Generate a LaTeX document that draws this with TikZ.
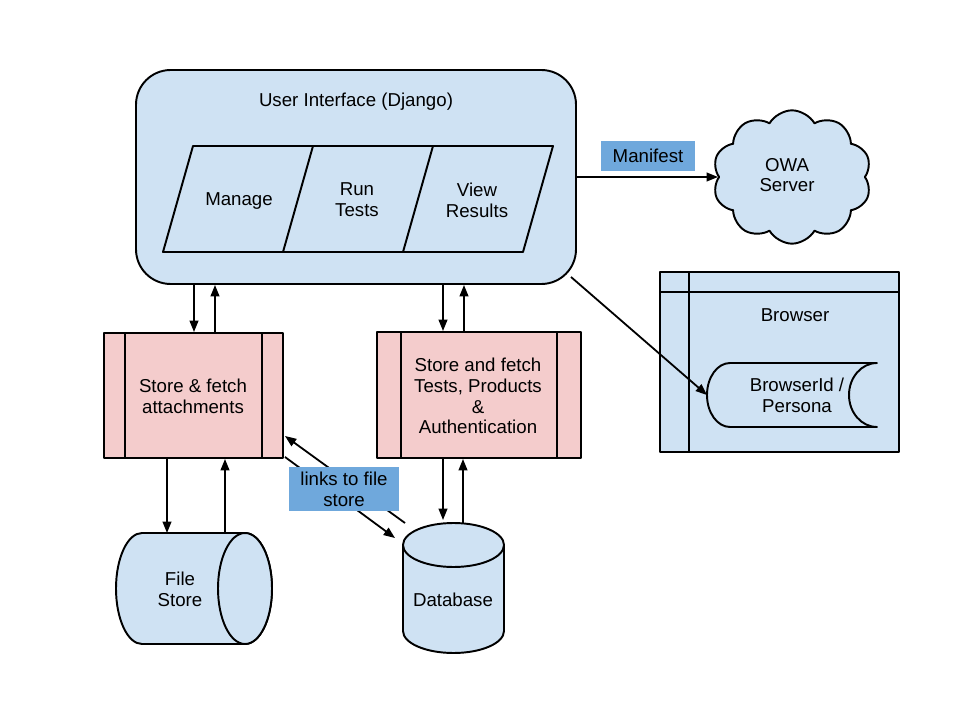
\documentclass[tikz,border=0pt]{standalone}
\usepackage{fontspec}
\setmainfont{Liberation Sans}
\usetikzlibrary{arrows.meta,calc,shapes.symbols}
\definecolor{lblue}{HTML}{CFE2F3}
\definecolor{lpink}{HTML}{F4CCCC}
\definecolor{tagblue}{HTML}{6FA8DC}
\begin{document}
\begin{tikzpicture}[x=0.75pt,y=-0.75pt,font=\fontsize{14}{15.5}\selectfont,
  shp/.style={draw=black,line width=1.45pt,fill=lblue,line join=round},
  pinkbox/.style={shp,fill=lpink,inner sep=0pt},
  edge/.style={line width=1.45pt},
  arr/.style={line width=1.35pt,-{Triangle[length=8.5pt,width=6.5pt]}},
  txt/.style={align=center,inner sep=0pt},
  tag/.style={fill=tagblue,inner sep=0pt,align=center},
  ghost/.style={inner sep=0pt,outer sep=0pt}]

\useasboundingbox (0,0) rectangle (960,720);

% User interface
\node[shp,rounded corners=26pt,minimum width=330pt,minimum height=160.5pt,inner sep=0pt] (ui) at (356,177) {};
\node[txt] (uititle) at (356,102) {User Interface (Django)};
\draw[shp] (193,146) -- (553,146) -- (523,252) -- (163,252) -- cycle;
\draw[edge] (313,146) -- (283,252) (433,146) -- (403,252);
\node[txt] (manage) at (239,201) {Manage};
\node[txt] (run) at (357,200) {Run\\Tests};
\node[txt] (view) at (477,200) {View\\Results};

% OWA server cloud
\node[shp,cloud,cloud puffs=10,cloud puff arc=120,aspect=1.2,minimum width=119pt,minimum height=100pt,inner sep=0pt] (owa) at (792,177) {};
\node[txt] (owatext) at (787,175) {OWA\\Server};
\draw[arr] (ui.east) -- (ui.east -| owa.west);
\node[tag,minimum width=70.5pt,minimum height=22.5pt] (manifest) at (648,156) {Manifest};

% Browser
\node[shp,minimum width=179.25pt,minimum height=135pt,inner sep=0pt] (br) at (779.5,362) {};
\draw[edge] ($(br.north west)+(0,21)$) -- ($(br.north east)+(0,21)$);
\draw[edge] ($(br.north west)+(30,0)$) -- ($(br.south west)+(30,0)$);
\node[txt] (brtitle) at (795,315) {Browser};
\node[ghost,minimum width=127.5pt,minimum height=48pt] (bid) at (792,395) {};
\draw[shp] ($(bid.north west)+(23,0)$) -- (bid.north east)
  arc[start angle=90,end angle=270,x radius=21pt,y radius=24pt]
  -- ($(bid.south west)+(23,0)$)
  arc[start angle=270,end angle=90,x radius=17.25pt,y radius=24pt] -- cycle;
\node[txt] (bidtext) at (797,395) {BrowserId /\\Persona};
\draw[arr] ($(ui.south east)+(-6,-8)$) -- (bid.west);

% Processing boxes
\node[pinkbox,minimum width=134.25pt,minimum height=93.75pt] (sa) at (193.5,395.5) {};
\draw[edge] ($(sa.north west)+(22,0)$) -- ($(sa.south west)+(22,0)$)
            ($(sa.north east)+(-22,0)$) -- ($(sa.south east)+(-22,0)$);
\node[txt] (satext) at (193,396) {Store \& fetch\\attachments};

\node[pinkbox,minimum width=153pt,minimum height=94.5pt] (st) at (479,395) {};
\draw[edge] ($(st.north west)+(25,0)$) -- ($(st.south west)+(25,0)$)
            ($(st.north east)+(-25,0)$) -- ($(st.south east)+(-25,0)$);
\node[txt] (sttext) at (478,396) {Store and fetch\\Tests, Products\\\&\\Authentication};

% File store (horizontal cylinder)
\node[ghost,minimum width=117pt,minimum height=83.25pt] (fs) at (194,588.5) {};
\draw[shp] ($(fs.north east)+(-27,0)$)
  arc[start angle=90,end angle=-90,x radius=20.25pt,y radius=41.625pt]
  -- ($(fs.south west)+(26,0)$)
  arc[start angle=270,end angle=90,x radius=19.5pt,y radius=41.625pt] -- cycle;
\draw[shp] ($(fs.east)+(-27,0)$) ellipse[x radius=20.25pt,y radius=41.625pt];
\node[txt] (fstext) at (180,589) {File\\Store};

% Database (vertical cylinder)
\node[ghost,minimum width=75.75pt,minimum height=97.5pt] (db) at (453.5,588) {};
\draw[shp] ($(db.north west)+(0,22)$) -- ($(db.south west)+(0,-22)$)
  arc[start angle=180,end angle=360,x radius=37.875pt,y radius=16.5pt]
  -- ($(db.north east)+(0,22)$)
  arc[start angle=0,end angle=180,x radius=37.875pt,y radius=16.5pt] -- cycle;
\draw[edge] ($(db.north west)+(0,22)$) arc[start angle=180,end angle=360,x radius=37.875pt,y radius=16.5pt];
\node[txt] (dbtext) at (453,600) {Database};

% Vertical connectors
\coordinate (a1) at ($(sa.north)+(0.5,0)$);
\draw[arr] (a1 |- ui.south) -- (a1);
\coordinate (a2) at ($(sa.north)+(21.5,0)$);
\draw[arr] (a2) -- (a2 |- ui.south);
\coordinate (a3) at ($(st.north)+(-36,0)$);
\draw[arr] (a3 |- ui.south) -- (a3);
\coordinate (a4) at ($(st.north)+(-15,0)$);
\draw[arr] (a4) -- (a4 |- ui.south);
\coordinate (a5) at ($(sa.south)+(-26.5,0)$);
\draw[arr] (a5) -- (a5 |- fs.north);
\coordinate (a6) at ($(sa.south)+(31.5,0)$);
\draw[arr] (a6 |- fs.north) -- (a6);
\coordinate (a7) at ($(st.south)+(-36,0)$);
\draw[arr] (a7) -- ($(a7 |- db.north)+(0,-3)$);
\coordinate (a8) at ($(st.south)+(-16,0)$);
\draw[arr] (a8 |- db.north) -- (a8);

% Links to file store
\draw[arr] ($(db.north west)+(2,0)$) -- ($(sa.south east)+(1,-23)$);
\draw[arr] ($(sa.south east)+(1,-2)$) -- ($(db.north west)+(-8,15)$);
\node[tag,minimum width=82.5pt,minimum height=33pt] (links) at (344,489) {links to file\\store};
\end{tikzpicture}
\end{document}
